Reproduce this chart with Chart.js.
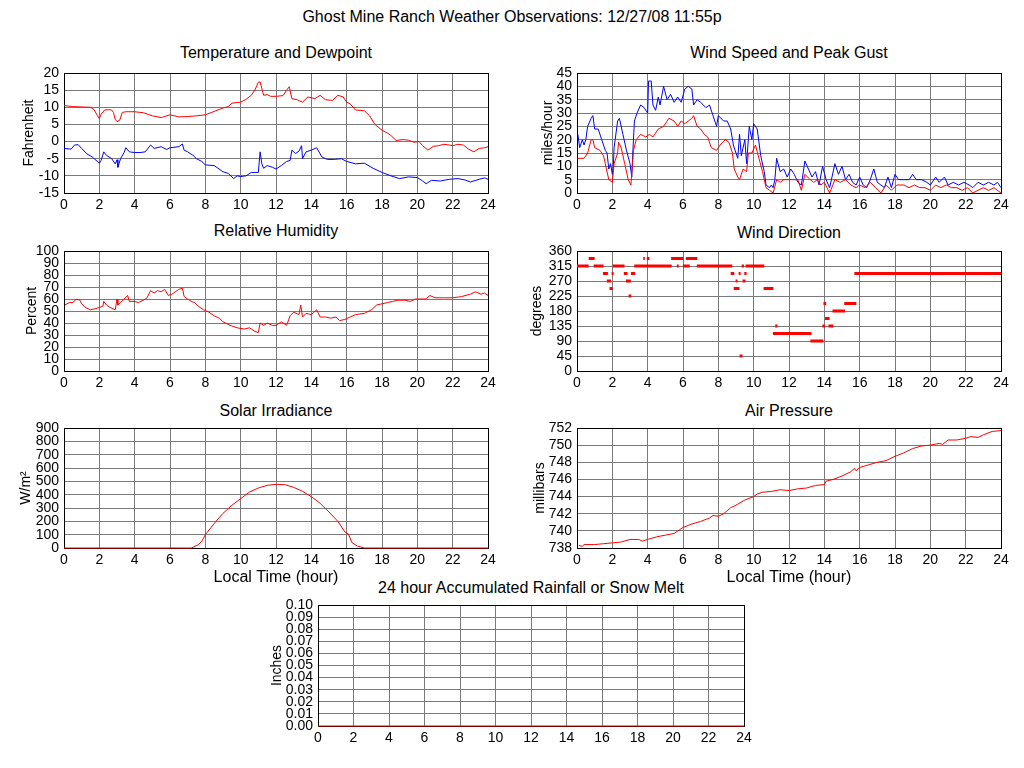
<!DOCTYPE html>
<html>
<head>
<meta charset="utf-8">
<title>Ghost Mine Ranch Weather Observations</title>
<script src="https://cdn.jsdelivr.net/npm/chart.js@4.4.1/dist/chart.umd.min.js"></script>
<style>
body { margin: 0; background: #fff; }
#lienzo { position: relative; width: 1024px; height: 768px; overflow: hidden; font-family: "Liberation Sans", Arial, sans-serif; color: #000; }
#lienzo canvas { position: absolute; left: 0; top: 0; }
.titulo { position: absolute; width: 500px; height: 20px; line-height: 20px; text-align: center; font-size: 16px; white-space: nowrap; }
</style>
</head>
<body>
<div id="lienzo">
  <div class="titulo" style="left:262px;top:7px">Ghost Mine Ranch Weather Observations: 12/27/08 11:55p</div>
  <div class="titulo" style="left:26px;top:43px">Temperature and Dewpoint</div>
  <div class="titulo" style="left:539px;top:43px">Wind Speed and Peak Gust</div>
  <div class="titulo" style="left:26px;top:221px">Relative Humidity</div>
  <div class="titulo" style="left:539px;top:223px">Wind Direction</div>
  <div class="titulo" style="left:26px;top:401px">Solar Irradiance</div>
  <div class="titulo" style="left:539px;top:401px">Air Pressure</div>
  <div class="titulo" style="left:281px;top:578px">24 hour Accumulated Rainfall or Snow Melt</div>
</div>
<script>
var colorRojo = "#ff0000";
var colorAzul = "#0000ff";
var colorRejilla = "#7a7a7a";
var fuente = '"Liberation Sans", Arial, sans-serif';

// [hora, valor]
var temperatura = [[0,10.5],[0.5,10.2],[1,10.1],[1.5,10],[1.7,9.3],[1.9,7.5],[2,6.7],[2.1,8],[2.3,9.2],[2.5,9.3],[2.7,9.2],[2.8,8.5],[2.9,6.5],[3,5.8],[3.15,6.2],[3.3,8.5],[3.5,8.7],[4,8.7],[4.5,8.4],[5,7.5],[5.5,7],[6,7.8],[6.5,7.2],[7,7.3],[7.5,7.5],[8,7.8],[8.5,8.8],[9,9.8],[9.3,10.2],[9.5,11.2],[10,11.5],[10.3,12.3],[10.6,13.5],[10.8,15],[11,17.3],[11.1,17.4],[11.3,13.5],[11.5,13.7],[11.7,13.2],[12,13.2],[12.4,13.4],[12.6,15],[12.75,16],[12.9,12.5],[13.2,12.2],[13.5,11.5],[13.8,13],[14,12.8],[14.2,12.5],[14.5,13.5],[14.8,12.2],[15.2,12],[15.5,13.5],[15.8,13],[16,11.5],[16.2,11],[16.5,9.2],[17,9],[17.3,7.5],[17.6,5],[18,3.3],[18.3,2.5],[18.5,1.8],[18.8,0.3],[19.2,0.6],[19.5,0.4],[19.8,-0.2],[20.1,0],[20.3,-1.2],[20.6,-2.5],[20.9,-1.4],[21.2,-1.2],[21.5,-0.8],[21.8,-1],[22,-1.2],[22.3,-0.8],[22.6,-1],[22.9,-2.2],[23.2,-3],[23.5,-2],[23.8,-1.8],[24,-1.5]];
var puntoRocio = [[0,-2],[0.4,-2.2],[0.6,-1],[0.8,-0.9],[1,-2],[1.3,-3.6],[1.6,-4.5],[2,-6.3],[2.1,-5.5],[2.25,-3],[2.4,-4],[2.7,-5],[2.9,-6.5],[3,-5.3],[3.05,-7.5],[3.2,-5],[3.4,-3.2],[3.5,-1.8],[3.7,-3],[4,-3.2],[4.3,-3.2],[4.6,-3],[4.9,-1],[5.1,-2],[5.5,-1.5],[5.8,-2.3],[6,-1.8],[6.5,-1.5],[6.7,-0.7],[6.8,-2.5],[7,-3],[7.3,-4],[7.5,-5],[7.8,-5.8],[8,-6.8],[8.5,-7],[9,-8.8],[9.3,-9.3],[9.6,-10.8],[9.8,-10],[10,-10.2],[10.3,-10],[10.6,-9],[11,-9],[11.1,-3],[11.2,-6.5],[11.3,-7.8],[11.5,-7],[11.8,-7.5],[12,-8],[12.3,-7],[12.6,-5.8],[12.8,-5.5],[12.9,-2.5],[13.1,-3.5],[13.3,-2.8],[13.45,-1.2],[13.5,-5],[13.7,-3],[14,-2.5],[14.3,-1.8],[14.6,-4.5],[14.9,-5.2],[15.3,-5.2],[15.7,-5],[16,-5.8],[16.5,-6.5],[17,-6.3],[17.5,-7.8],[18,-9],[18.5,-10],[19,-10.8],[19.5,-10.3],[20,-10.5],[20.3,-11.5],[20.5,-12.3],[20.8,-11.3],[21.3,-11.5],[21.8,-11],[22.3,-10.8],[22.7,-11.2],[23,-11.8],[23.5,-11],[23.8,-10.6],[24,-11]];

var rafaga = [[0.05,22],[0.15,17],[0.3,20],[0.4,18],[0.5,20],[0.6,25],[0.8,28],[0.9,29],[1,24],[1.2,24],[1.4,20],[1.6,16],[1.7,15],[1.8,9],[1.9,11],[2,7],[2.05,9],[2.1,17],[2.3,27],[2.4,28],[2.6,22],[2.8,16],[3,11],[3.1,6],[3.15,14],[3.25,27],[3.4,30],[3.6,33],[3.8,32],[4,30],[4.05,42],[4.2,42],[4.3,33],[4.45,31],[4.6,36],[4.7,33],[4.9,40],[5.1,35],[5.3,37],[5.5,34],[5.7,36],[5.9,34],[6.1,39],[6.3,40],[6.5,39],[6.6,33],[6.8,35],[7,34],[7.3,32],[7.5,33],[7.7,29],[7.9,25],[8,29],[8.3,27],[8.5,27],[8.7,24],[8.85,18],[8.95,16],[9.1,13],[9.2,22],[9.3,14],[9.5,20],[9.6,11],[9.75,25],[9.9,20],[10,26],[10.2,24],[10.4,14],[10.6,8],[10.7,3],[10.9,2],[11,3],[11.1,2],[11.2,5],[11.3,13],[11.5,8],[11.7,9],[11.9,6],[12.1,9],[12.3,7],[12.5,4],[12.7,3],[12.9,12],[13.1,9],[13.3,6],[13.5,8],[13.7,3],[13.9,10],[14.1,5],[14.3,2],[14.6,11],[14.8,7],[15,10],[15.2,5],[15.4,7],[15.6,4],[15.8,3],[16,6],[16.2,3],[16.4,2],[16.6,5],[16.8,9],[17,4],[17.2,3],[17.4,2],[17.6,6],[17.8,2],[18,7],[18.2,5],[18.5,5],[18.8,5],[19,7],[19.2,5],[19.5,5],[19.8,4],[20,3],[20.3,6],[20.5,4],[20.8,6],[21,3],[21.3,4],[21.6,3],[21.9,4],[22.2,3],[22.4,2],[22.7,4],[23,3],[23.3,4],[23.6,3],[23.8,4],[24,2]];
var velocidad = [[0.05,13],[0.4,13],[0.6,15],[0.8,20],[0.9,20],[1,17],[1.3,16],[1.5,14],[1.6,11],[1.8,5],[2,4],[2.1,11],[2.3,15],[2.35,19],[2.5,17],[2.7,11],[2.9,5],[3.05,3],[3.2,16],[3.35,20],[3.6,22],[3.9,21],[4.1,22],[4.3,21],[4.6,24],[4.9,25],[5.2,28],[5.5,27],[5.7,25],[5.9,27],[6.1,26],[6.3,27],[6.5,28],[6.6,29],[6.8,25],[7,24],[7.2,22],[7.4,21],[7.6,17],[7.9,16],[8.1,18],[8.4,20],[8.6,19],[8.8,15],[8.9,9],[9.1,6],[9.2,5],[9.4,9],[9.6,8],[9.7,15],[9.9,15],[10.1,18],[10.3,13],[10.5,8],[10.7,2],[10.9,1],[11.1,0],[11.3,5],[11.5,4],[11.7,5],[12,5],[12.3,5],[12.5,5],[12.7,1],[12.9,7],[13.2,5],[13.4,4],[13.6,5],[13.8,3],[14,4],[14.3,0],[14.6,5],[14.9,4],[15.2,5],[15.5,3],[15.8,2],[16,3],[16.3,2],[16.6,4],[16.9,2],[17.2,0],[17.5,3],[17.8,1],[18.1,3],[18.5,3],[18.8,2],[19.1,3],[19.4,2],[19.7,2],[20,1],[20.3,3],[20.6,2],[20.9,3],[21.2,2],[21.5,2],[21.8,1],[22.1,2],[22.4,0],[22.7,1],[23,2],[23.3,1],[23.6,2],[24,0]];

var humedad = [[0.05,55],[0.3,57],[0.5,57],[0.7,60],[0.9,59],[1,56],[1.2,53],[1.5,51],[1.8,52],[2,53],[2.2,54],[2.25,58],[2.4,55],[2.6,53],[2.9,51],[3,60],[3.05,55],[3.2,57],[3.4,60],[3.6,63],[3.7,58],[4,58],[4.2,57],[4.5,59],[4.7,61],[4.9,67],[5.1,65],[5.3,67],[5.5,66],[5.7,68],[5.9,63],[6.1,64],[6.3,66],[6.5,68],[6.7,69],[6.8,62],[7,60],[7.2,58],[7.4,57],[7.6,54],[7.9,51],[8.2,49],[8.5,46],[8.8,44],[9,41],[9.4,38],[9.8,36],[10.2,35],[10.5,36],[10.8,33],[11,32],[11.1,40],[11.3,38],[11.5,40],[11.8,38],[12,38],[12.3,41],[12.6,38],[12.8,46],[13,49],[13.3,47],[13.4,55],[13.5,45],[13.7,48],[14,47],[14.3,51],[14.5,45],[14.8,45],[15.1,44],[15.4,45],[15.6,42],[15.9,43],[16.2,45],[16.5,47],[17,48],[17.4,51],[17.7,55],[18,56],[18.3,57],[18.6,58],[18.9,59],[19.3,59],[19.6,58],[19.9,60],[20.2,60],[20.5,60],[20.7,63],[21,61],[21.5,61],[22,61],[22.5,62],[23,64],[23.3,66],[23.6,64],[23.8,65],[24,63]];

// [desde, hasta, grados]
var direccionTramos = [[0,0.66,315],[0.66,1,337.5],[0.94,1.5,315],[1.47,1.75,292.5],[1.69,1.92,270],[1.84,2.01,247.5],[1.96,2.07,292.5],[2.03,2.69,315],[2.65,2.86,292.5],[2.77,3.05,270],[2.92,3.07,225],[3.05,3.28,292.5],[3.24,5.36,315],[3.75,3.84,337.5],[3.95,4.1,337.5],[5.33,6.02,337.5],[5.65,5.76,315],[5.99,6.38,315],[6.16,6.81,337.5],[6.78,8.79,315],[8.7,8.9,292.5],[8.87,9.2,247.5],[8.98,9.09,270],[9.15,9.26,292.5],[9.2,9.37,45],[9.32,9.45,315],[9.37,9.54,270],[9.47,9.6,292.5],[9.54,10.6,315],[10.56,11.12,247.5],[11.22,11.35,135],[11.09,13.27,112.5],[13.21,13.95,90],[13.89,14.04,135],[13.95,14.1,202.5],[14.04,14.3,157.5],[14.23,14.51,135],[14.46,15.17,180],[15.13,15.81,202.5],[15.7,24,292.5]];

var radiacion = [[0,0],[7.2,0],[7.3,5],[7.6,25],[7.8,50],[8,100],[8.3,150],[8.6,200],[9,260],[9.5,320],[10,370],[10.5,420],[11,450],[11.5,470],[12,478],[12.5,475],[13,455],[13.5,425],[14,385],[14.5,335],[15,270],[15.5,200],[15.9,120],[16.1,105],[16.3,40],[16.6,15],[17,0],[24,0]];

var presion = [[0.1,738.3],[0.3,738.2],[0.4,738.4],[1,738.4],[1.5,738.5],[2,738.6],[2.5,738.7],[3,739],[3.5,739],[3.7,738.8],[4,739],[4.5,739.3],[5,739.5],[5.5,739.7],[6,740.4],[6.5,740.8],[7,741.1],[7.5,741.5],[7.7,741.8],[8,741.7],[8.3,742],[8.7,742.7],[9,743],[9.5,743.6],[10,744],[10.2,744.3],[10.5,744.5],[11,744.6],[11.5,744.8],[12,744.7],[12.5,744.9],[13,745],[13.5,745.3],[14,745.4],[14.1,745.8],[14.5,746],[15,746.4],[15.5,746.9],[15.7,747.3],[15.8,747],[16,747.4],[16.5,747.7],[17,748],[17.5,748.2],[18,748.7],[18.5,749.1],[19,749.6],[19.5,749.9],[20,750],[20.5,750.2],[20.7,750.1],[21,750.6],[21.5,750.6],[22,750.8],[22.3,751],[22.7,750.9],[23,751.2],[23.5,751.6],[24,751.7]];

var lluvia = [[0,0],[24,0]];

function aPuntos(pares) {
    return pares.map(function (p) { return { x: p[0], y: p[1] }; });
}

function tramosAPuntos(tramos) {
    var puntos = [];
    tramos.forEach(function (t) {
        puntos.push({ x: t[0], y: t[2] });
        puntos.push({ x: t[1], y: t[2] });
        puntos.push({ x: t[1], y: null }); // corte entre tramos
    });
    return puntos;
}

function serie(datos, color, ancho) {
    return {
        data: datos,
        borderColor: color,
        backgroundColor: color,
        borderWidth: ancho || 1,
        pointRadius: 0,
        tension: 0,
        spanGaps: false,
        fill: false,
        clip: 2 // que la linea en cero se vea sobre el borde
    };
}

Chart.defaults.font.family = fuente;
Chart.defaults.color = "#000";

// area = bordes del grafico en pixeles de la pagina
function crearPanel(area, eje, series) {
    var canvas = document.createElement("canvas");
    canvas.width = 1024;
    canvas.height = 768;
    document.getElementById("lienzo").appendChild(canvas);

    var altoX = eje.tituloX ? 39 : 22;
    var anchoY = eje.separacion + 8.4;
    var esBorde = function (v, a, b) {
        return Math.abs(v - a) < 1e-6 || Math.abs(v - b) < 1e-6;
    };

    return new Chart(canvas, {
        type: "line",
        data: { datasets: series },
        options: {
            responsive: false,
            animation: false,
            devicePixelRatio: 1,
            layout: {
                padding: { left: area.l - anchoY, top: area.t, right: 1024 - area.r, bottom: 768 - area.b - altoX }
            },
            plugins: { legend: { display: false }, tooltip: { enabled: false } },
            scales: {
                x: {
                    type: "linear",
                    min: 0,
                    max: 24,
                    afterFit: function (s) { s.height = altoX; },
                    ticks: { stepSize: 2, autoSkip: false, maxRotation: 0, padding: 4, font: { size: 14 } },
                    grid: {
                        drawTicks: false,
                        lineWidth: 1,
                        color: function (c) { return esBorde(c.tick.value, 0, 24) ? "#000" : colorRejilla; }
                    },
                    border: { color: "#000", width: 1 },
                    title: { display: !!eje.tituloX, text: eje.tituloX, padding: 0, font: { size: 16 } }
                },
                y: {
                    min: eje.min,
                    max: eje.max,
                    afterFit: function (s) { s.width = anchoY; },
                    ticks: {
                        stepSize: eje.paso,
                        autoSkip: false,
                        padding: 5,
                        font: { size: 14 },
                        callback: function (v) { return eje.decimales ? v.toFixed(eje.decimales) : v; }
                    },
                    grid: {
                        drawTicks: false,
                        lineWidth: 1,
                        color: function (c) { return esBorde(c.tick.value, eje.min, eje.max) ? "#000" : colorRejilla; }
                    },
                    border: { color: "#000", width: 1 },
                    title: { display: true, text: eje.tituloY, padding: 0, font: { size: 14 } }
                }
            }
        }
    });
}

crearPanel({ l: 64, t: 73, r: 488, b: 193 },
    { min: -15, max: 20, paso: 5, tituloY: "Fahrenheit", separacion: 35 },
    [serie(aPuntos(temperatura), colorRojo), serie(aPuntos(puntoRocio), colorAzul)]);

crearPanel({ l: 577, t: 73, r: 1001, b: 193 },
    { min: 0, max: 45, paso: 5, tituloY: "miles/hour", separacion: 29 },
    [serie(aPuntos(velocidad), colorRojo), serie(aPuntos(rafaga), colorAzul)]);

crearPanel({ l: 64, t: 251, r: 488, b: 371 },
    { min: 0, max: 100, paso: 10, tituloY: "Percent", separacion: 32 },
    [serie(aPuntos(humedad), colorRojo)]);

var direccion = serie(tramosAPuntos(direccionTramos), colorRojo, 3);
direccion.borderCapStyle = "butt";
crearPanel({ l: 577, t: 251, r: 1001, b: 371 },
    { min: 0, max: 360, paso: 45, tituloY: "degrees", separacion: 40 },
    [direccion]);

crearPanel({ l: 64, t: 428, r: 488, b: 548 },
    { min: 0, max: 900, paso: 100, tituloY: "W/m\u00b2", separacion: 38, tituloX: "Local Time (hour)" },
    [serie(aPuntos(radiacion), colorRojo)]);

crearPanel({ l: 577, t: 428, r: 1001, b: 548 },
    { min: 738, max: 752, paso: 2, tituloY: "millibars", separacion: 37, tituloX: "Local Time (hour)" },
    [serie(aPuntos(presion), colorRojo)]);

crearPanel({ l: 318, t: 605, r: 744, b: 726 },
    { min: 0, max: 0.1, paso: 0.01, decimales: 2, tituloY: "Inches", separacion: 41 },
    [serie(aPuntos(lluvia), colorRojo)]);
</script>
</body>
</html>
